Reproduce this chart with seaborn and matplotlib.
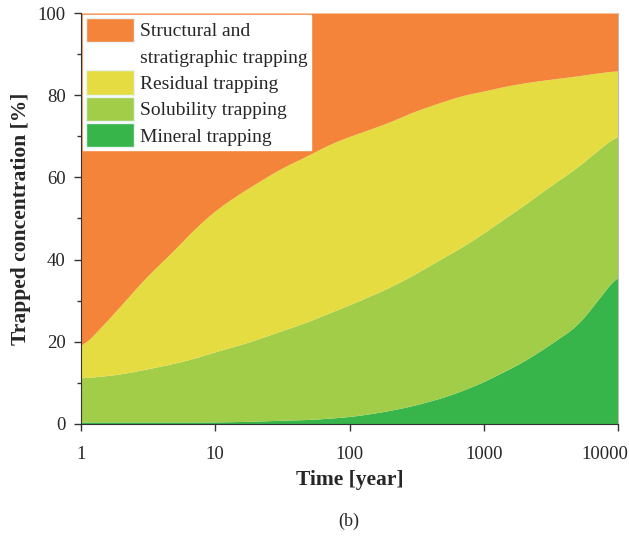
import numpy as np
import seaborn as sns
import matplotlib.pyplot as plt
import matplotlib.transforms as mtransforms
from matplotlib.ticker import FixedLocator, NullLocator

# time axis (years) and cumulative tops of each band (%)
time = [1, 1.5, 2, 3, 5, 7, 10, 15, 20, 30, 50, 70, 100, 150, 200, 300,
        500, 700, 1000, 1500, 2000, 3000, 5000, 7000, 10000]
mineral_top = [0.5, 0.5, 0.5, 0.5, 0.5, 0.5, 0.5, 0.6, 0.7, 0.9, 1.1, 1.4, 1.8,
               2.6, 3.3, 4.5, 6.5, 8.2, 10.3, 13.2, 15.3, 19.0, 24.0, 30.0, 36.5]
solubility_top = [11.2, 11.7, 12.2, 13.3, 14.8, 16.0, 17.6, 19.2, 20.5, 22.5, 25.0,
                  27.0, 29.0, 31.5, 33.3, 36.3, 40.5, 43.2, 46.5, 50.5, 53.3,
                  57.5, 62.5, 66.5, 70.5]
residual_top = [18.5, 24.5, 29.0, 35.5, 42.5, 47.5, 52.0, 56.0, 58.5, 62.0, 65.5,
                68.0, 70.0, 72.0, 73.5, 76.0, 78.5, 80.0, 81.0, 82.3, 83.0, 83.8,
                84.7, 85.4, 86.0]

labels = ['Structural and', 'stratigraphic trapping', 'Residual trapping',
          'Solubility trapping', 'Mineral trapping']
colors = ['#F4843A', 'none', '#E5DC41', '#A1CD48', '#37B44A']
xtick_vals = [1, 10, 100, 1000, 10000]
xtick_labels = ['1', '10', '100', '1000', '10000']

sns.set_style('ticks')
plt.rcParams['font.family'] = ['Liberation Serif', 'DejaVu Serif']


def smooth(y, w=21):
    pad = w // 2
    yp = np.concatenate([np.full(pad, y[0]), y, np.full(pad, y[-1])])
    return np.convolve(yp, np.ones(w) / w, mode='valid')


# smooth the curves in log-time
lt = np.log10(np.array(time, dtype=float))
tf = np.logspace(0, 4, 500)
ltf = np.log10(tf)
m = smooth(np.interp(ltf, lt, mineral_top))
s = smooth(np.interp(ltf, lt, solubility_top))
r = smooth(np.interp(ltf, lt, residual_top))

fig = plt.figure(figsize=(6.29, 5.41), dpi=100)
ax = fig.add_axes([81 / 629, 117 / 541, 537 / 629, 411 / 541])

ax.stackplot(tf, m, s - m, r - s, 100 - r,
             colors=['#37B44A', '#A1CD48', '#E5DC41', '#F4843A'], linewidth=0)

ax.set_xscale('log')
ax.set_xlim(1, 10000)
ax.set_ylim(0, 100)
ax.xaxis.set_major_locator(FixedLocator(xtick_vals))
ax.xaxis.set_minor_locator(NullLocator())
ax.set_xticklabels(xtick_labels)
ax.set_yticks([0, 20, 40, 60, 80, 100])
ax.yaxis.set_minor_locator(FixedLocator([10, 30, 50, 70, 90]))
ax.tick_params(axis='both', which='major', labelsize=13.5, length=5,
               width=1, color='#333333')
ax.tick_params(axis='x', which='major', pad=11)
ax.tick_params(axis='y', which='major', pad=6)
ax.tick_params(axis='y', which='minor', length=3, width=1, color='#333333')

# last x label sits a bit left so it stays inside the figure
last = ax.get_xticklabels()[-1]
last.set_transform(last.get_transform() +
                   mtransforms.ScaledTranslation(-0.13, 0, fig.dpi_scale_trans))

ax.spines['top'].set_visible(False)
ax.spines['left'].set_color('#333333')
ax.spines['bottom'].set_color('#333333')
ax.spines['right'].set_color('#bbbbbb')

ax.set_xlabel('Time [year]', fontsize=15.5, fontweight='bold', labelpad=5)
ax.set_ylabel('Trapped concentration [%]', fontsize=15.5, fontweight='bold',
              labelpad=5)

handles = [plt.Rectangle((0, 0), 1, 1, facecolor=c,
                         edgecolor='#e8f4f4' if c != 'none' else 'none',
                         linewidth=1)
           for c in colors]
leg = ax.legend(handles, labels, loc='upper left', fontsize=14,
                frameon=True, fancybox=False, framealpha=1, edgecolor='white',
                borderpad=0.15, labelspacing=0.1, handlelength=2.5,
                handleheight=1.55, handletextpad=0.3, borderaxespad=0.1)

fig.text(349 / 629, 1 - 521 / 541, '(b)', ha='center', va='center', fontsize=13)

plt.savefig('out.png', dpi=100)
